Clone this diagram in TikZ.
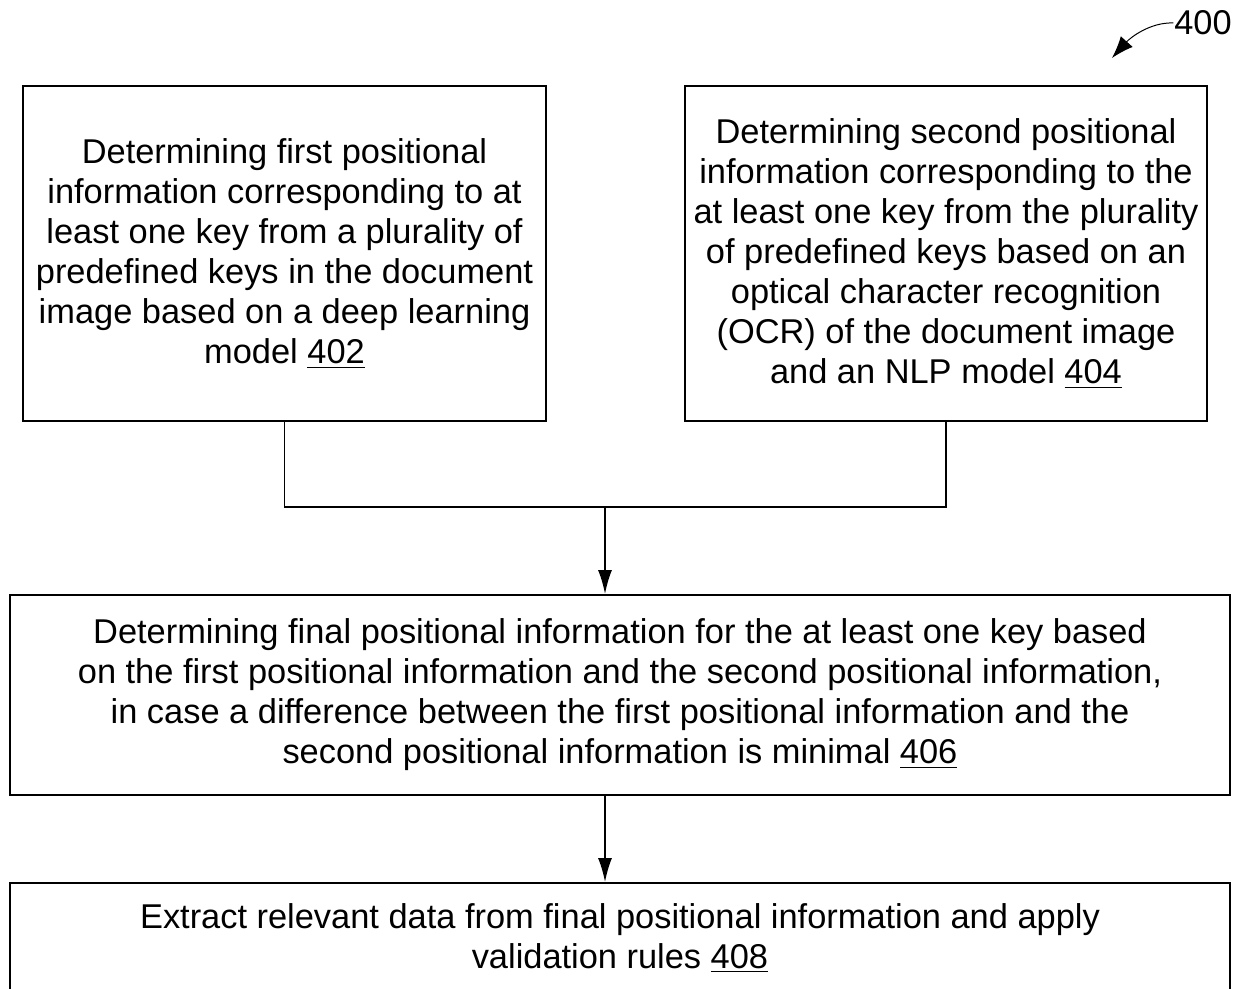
\documentclass[tikz,border=0pt]{standalone}
\usepackage{fontspec}
\setmainfont{Liberation Sans}
\usetikzlibrary{arrows.meta}
\tikzset{>={Latex[width=7pt,length=12pt]}}
\tikzset{stepbox/.style={draw,line width=0.9pt,align=center,inner sep=0pt,font=\fontsize{17.2}{20}\selectfont}}

\begin{document}
\begin{tikzpicture}[x=0.5pt,y=-0.5pt,line width=0.9pt]
		% border
		\useasboundingbox (0,0) rectangle (1242,989);
		\clip (0,0) rectangle (1242,989);

		% boxes
		\node[stepbox,minimum width=261.5pt,minimum height=167.5pt] (box402) at (284.5,253.5)
			{Determining first positional\\information corresponding to at\\least one key from a plurality of\\predefined keys in the document\\image based on a deep learning\\model \underline{402}};
		\node[stepbox,minimum width=261pt,minimum height=167.5pt] (box404) at (946,253.5)
			{Determining second positional\\information corresponding to the\\at least one key from the plurality\\of predefined keys based on an\\optical character recognition\\(OCR) of the document image\\and an NLP model \underline{404}};
		\node[stepbox,minimum width=610pt,minimum height=100pt] (box406) at (620,695)
			{Determining final positional information for the at least one key based\\on the first positional information and the second positional information,\\in case a difference between the first positional information and the\\second positional information is minimal \underline{406}};
		\node[stepbox,minimum width=610pt,minimum height=55pt] (box408) at (620,938)
			{Extract relevant data from final positional information and apply\\validation rules \underline{408}};

		% connectors
		\coordinate (join) at (605,507);
		\draw (box402.south) |- (join) -| (box404.south);
		\draw[->] (join) -- (join |- box406.north);
		\draw[->] (box406.south -| join) -- (box408.north -| join);

		% figure number
		\node[font=\fontsize{17.2}{20}\selectfont,inner sep=0pt] (fig400) at (1203,23) {400};
		\coordinate (tip400) at (1112,58);
		\draw[-{Latex[width=8pt,length=11pt]},line width=0.5pt] (fig400.west) .. controls (1150,22) and (1130,38) .. (tip400);
	\end{tikzpicture}
\end{document}
